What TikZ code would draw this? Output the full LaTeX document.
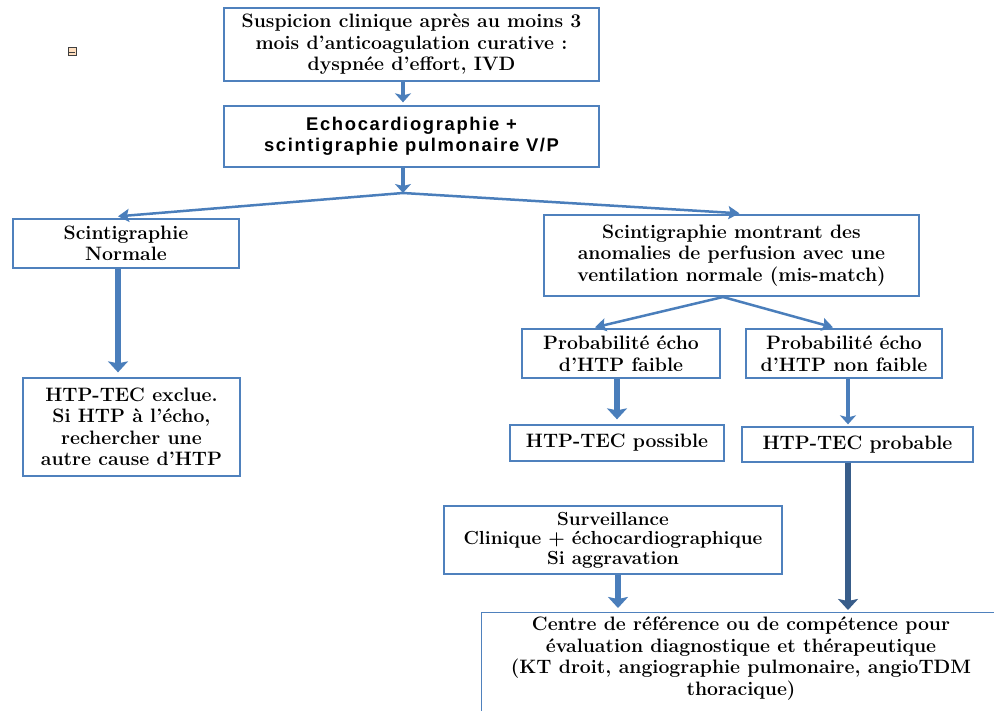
\documentclass[tikz,border=0pt]{standalone}
\usepackage{fontspec}
\usepackage{tikz}
\usetikzlibrary{arrows.meta}
\newfontfamily\sansb{Liberation Sans}[LetterSpace=9]
\definecolor{bl}{HTML}{4F81BD}
\definecolor{ab}{HTML}{4A7EBB}
\definecolor{db}{HTML}{385D8A}
\newcommand{\boxfont}{\fontsize{19.4}{21.5}\selectfont\bfseries}
\newcommand{\survfont}{\fontsize{18.9}{19.5}\selectfont\bfseries}
\newcommand{\echofont}{\sansb\bfseries\fontsize{18.4}{21}\selectfont}

\begin{document}
\begin{tikzpicture}[x=1pt,y=-1pt,
box/.style={draw=bl,line width=1.3pt,inner sep=0pt,align=center,font=\boxfont},
arr/.style={ab,line width=4.5pt,-{Stealth[length=9pt,width=16pt,inset=2pt]}},
arrbig/.style={ab,line width=5.5pt,-{Stealth[length=11pt,width=20pt,inset=2pt]}},
arrthin/.style={ab,line width=3.5pt,-{Stealth[length=9pt,width=16pt,inset=2pt]}},
branch/.style={ab,line width=2.5pt,-{Stealth[length=11pt,width=13pt,inset=2pt]}}]
\useasboundingbox (0,0) rectangle (994,711);
\node[draw=black!75,fill=orange!25,line width=1pt,minimum size=8pt,inner sep=0pt] (ic) at (72,52) {};
\draw[black!75,line width=0.8pt] ([xshift=1.5pt]ic.west) -- ([xshift=-1.5pt]ic.east);
\node[box,minimum width=375,minimum height=73] (b1) at (411.5,44.5) {Suspicion clinique après au moins 3\\mois d’anticoagulation curative :\\dyspnée d’effort, IVD};
\node[box,font=\echofont,minimum width=375,minimum height=61] (b2) at (411.5,136.5) {Echocardiographie +\\scintigraphie pulmonaire V/P};
\coordinate (s1) at (403,193);
\node[box,minimum width=226,minimum height=49] (sn) at (126,243.5) {Scintigraphie\\Normale};
\node[box,minimum width=217,minimum height=98] (ex) at (131.5,427) {HTP-TEC exclue.\\Si HTP à l’écho,\\rechercher une\\autre cause d’HTP};
\node[box,minimum width=375,minimum height=81] (sm) at (731.5,255.5) {Scintigraphie montrant des\\anomalies de perfusion avec une\\ventilation normale (mis-match)};
\coordinate (s2) at (723,297);
\node[box,minimum width=198,minimum height=49] (pf) at (621,353.5) {Probabilité écho\\d’HTP faible};
\node[box,minimum width=196,minimum height=49] (pnf) at (844,353.5) {Probabilité écho\\d’HTP non faible};
\node[box,minimum width=214,minimum height=36] (pos) at (617,443) {HTP-TEC possible};
\node[box,minimum width=231,minimum height=35] (prob) at (857.5,444.5) {HTP-TEC probable};
\node[box,font=\survfont,minimum width=338,minimum height=68] (sv) at (613,540) {Surveillance\\Clinique + échocardiographique\\Si aggravation};
\node[box,anchor=north west,minimum width=540,minimum height=130] (cr) at (481,612) {};
\node[font=\boxfont,align=center] (crt) at (741,658.5) {Centre de référence ou de compétence pour\\évaluation diagnostique et thérapeutique\\(KT droit, angiographie pulmonaire, angioTDM\\thoracique)};
\draw[arr,shorten >=3pt] (b1.south -| s1) -- (b2.north -| s1);
\draw[arr] (b2.south -| s1) -- (s1);
\draw[branch] (s1) -- ([xshift=-8pt,yshift=2pt]sn.north);
\draw[branch] (s1) -- ([xshift=8pt,yshift=1pt]sm.north);
\draw[arrbig,shorten >=5pt] ([xshift=-8pt]sn.south) -- ([xshift=-8pt]sn.south |- ex.north);
\draw[branch] (s2) -- ([xshift=-26pt,yshift=1pt]pf.north);
\draw[branch] (s2) -- ([xshift=-11pt,yshift=1pt]pnf.north);
\draw[arrbig,shorten >=5pt] ([xshift=-4pt]pf.south) -- ([xshift=-4pt]pf.south |- pos.north);
\draw[arrthin,shorten >=2pt] ([xshift=4pt]pnf.south) -- ([xshift=4pt]pnf.south |- prob.north);
\draw[arrbig,shorten >=4pt] ([xshift=5pt]sv.south) -- ([xshift=5pt]sv.south |- cr.north);
\draw[arrbig,db,line width=6.5pt,shorten >=2pt] ([xshift=-9.5pt]prob.south) -- ([xshift=-9.5pt]prob.south |- cr.north);
\end{tikzpicture}
\end{document}
